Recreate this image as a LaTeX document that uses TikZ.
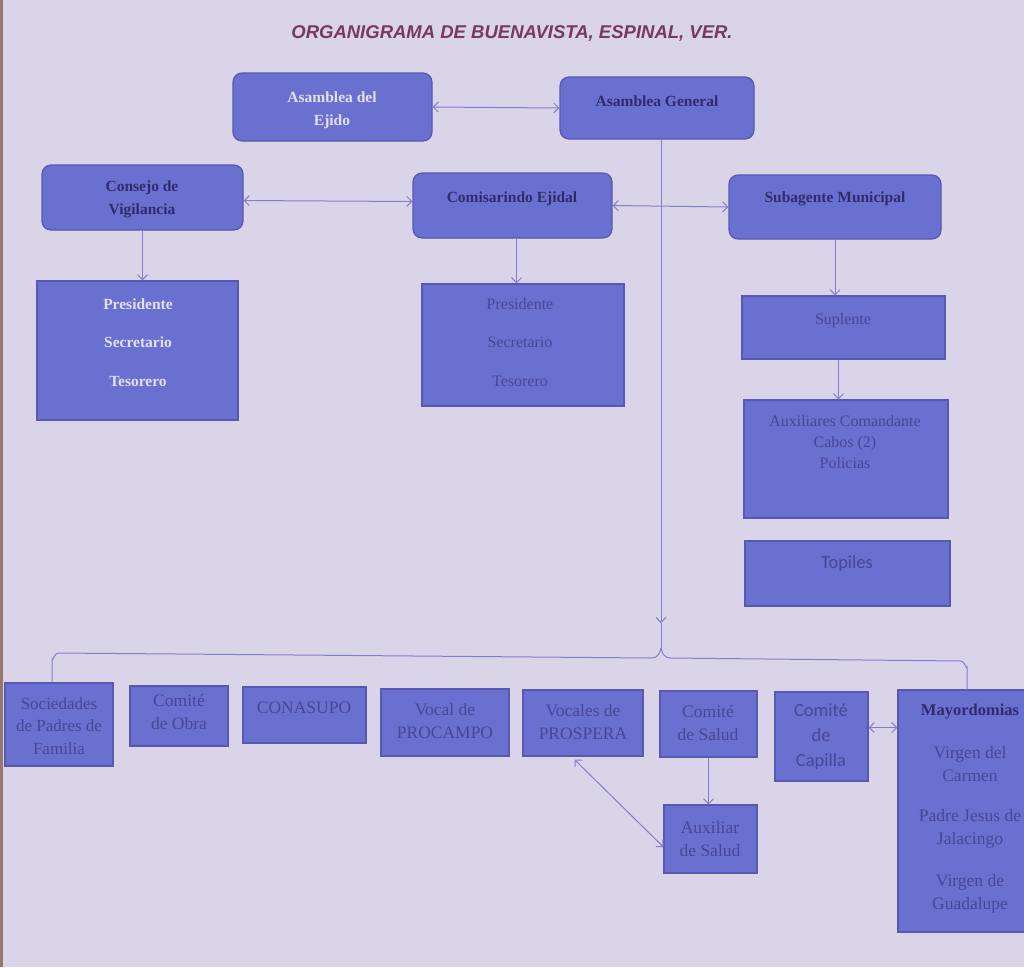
\documentclass[tikz,border=0pt]{standalone}
\usepackage{fontspec}
\setmainfont{Liberation Serif}
\newfontfamily\titlefont{Liberation Sans}
\newfontfamily\calfont{Carlito}
\usetikzlibrary{arrows.meta,fit,calc}
\definecolor{bgc}{RGB}{218,212,233}
\definecolor{boxfill}{RGB}{106,112,208}
\definecolor{boxline}{RGB}{88,88,176}
\definecolor{darkt}{RGB}{48,44,108}
\definecolor{midt}{RGB}{72,70,150}
\definecolor{whitet}{RGB}{228,224,244}
\definecolor{linkc}{RGB}{128,128,200}
\definecolor{titlec}{RGB}{118,58,92}
\definecolor{edgec}{RGB}{150,120,112}
\begin{document}
\begin{tikzpicture}[x=1pt,y=-1pt,
  box/.style={draw=boxline, fill=boxfill, line width=1.2pt, inner sep=0pt},
  rbox/.style={box, rounded corners=9pt},
  lnk/.style={draw=linkc, line width=1pt},
  tip/.style={-{Straight Barb[length=5pt,width=10pt]}},
  dtip/.style={{Straight Barb[length=5pt,width=10pt]}-{Straight Barb[length=5pt,width=10pt]}},
  bt/.style={font=\fontsize{15.5}{23}\selectfont\bfseries, text=darkt, align=center, inner sep=0pt},
  wt/.style={bt, text=whitet},
  rt/.style={font=\fontsize{16}{21}\selectfont, text=midt, align=center, inner sep=0pt},
  lt/.style={font=\fontsize{17.5}{23}\selectfont, text=midt, align=center, inner sep=0pt},
  ct/.style={font=\calfont\fontsize{18.5}{25}\selectfont, text=midt, align=center, inner sep=0pt}
]
\useasboundingbox (0,0) rectangle (1024,967);
\fill[bgc] (0,0) rectangle (1024,967);
\fill[edgec] (0,0) rectangle (3,967);

% title
\node[font=\titlefont\fontsize{18.5}{22}\selectfont\bfseries\itshape, text=titlec, inner sep=0pt] (title) at (512,33) {ORGANIGRAMA DE BUENAVISTA, ESPINAL, VER.};

% top level
\node[rbox, fit={(233,73)(432,141)}] (ae) {};
\node[wt] (aeT) at (332,110) {Asamblea del\\Ejido};
\node[rbox, fit={(560,77)(754,139)}] (ag) {};
\node[bt] (agT) at (657,101) {Asamblea General};

\node[rbox, fit={(42,165)(243,230)}] (cv) {};
\node[bt] (cvT) at (142,199) {Consejo de\\Vigilancia};
\node[rbox, fit={(413,173)(612,238)}] (ce) {};
\node[bt] (ceT) at (512,199) {Comisarindo Ejidal};
\node[rbox, fit={(729,175)(941,239)}] (sm) {};
\node[bt] (smT) at (835,199) {Subagente Municipal};

% second level
\node[box, fit={(37,281)(238,420)}] (pv) {};
\node[wt] (pv1) at (138,304) {Presidente};
\node[wt] (pv2) at (138,342) {Secretario};
\node[wt] (pv3) at (138,381) {Tesorero};

\node[box, fit={(422,284)(624,406)}] (pc) {};
\node[rt] (pc1) at (520,304) {Presidente};
\node[rt] (pc2) at (520,342) {Secretario};
\node[rt] (pc3) at (520,381) {Tesorero};

\node[box, fit={(742,296)(945,359)}] (sup) {};
\node[rt] (supT) at (843,321) {Suplente};
\node[box, fit={(744,400)(948,518)}] (aux) {};
\node[rt] (auxT) at (845,442) {Auxiliares Comandante\\Cabos (2)\\Policias};
\node[box, fit={(745,541)(950,606)}] (top) {};
\node[ct] (topT) at (847,564) {Topiles};

% bottom row
\node[box, fit={(5,683)(113,766)}] (soc) {};
\node[lt, font=\fontsize{17}{22.5}\selectfont] (socT) at (59,726) {Sociedades\\de Padres de\\Familia};
\node[box, fit={(130,686)(228,746)}] (obra) {};
\node[lt] (obraT) at (179,712) {Comité\\de Obra};
\node[box, fit={(243,687)(366,743)}] (cona) {};
\node[lt] (conaT) at (304,708) {CONASUPO};
\node[box, fit={(381,689)(509,756)}] (proc) {};
\node[lt] (procT) at (445,721) {Vocal de\\PROCAMPO};
\node[box, fit={(523,690)(643,756)}] (pros) {};
\node[lt] (prosT) at (583,722) {Vocales de\\PROSPERA};
\node[box, fit={(660,691)(757,757)}] (csal) {};
\node[lt] (csalT) at (708,723) {Comité\\de Salud};
\node[box, fit={(664,805)(757,873)}] (axs) {};
\node[lt] (axsT) at (710,839) {Auxiliar\\de Salud};
\node[box, fit={(775,692)(868,781)}] (cc) {};
\node[ct] (ccT) at (821,737) {Comité\\de\\Capilla};
\node[box, fit={(898,690)(1042,932)}] (may) {};
\node[bt, font=\fontsize{16.5}{23}\selectfont\bfseries] (mayT) at (970,712) {Mayordomias};
\node[lt] (may1) at (970,764) {Virgen del\\Carmen};
\node[lt] (may2) at (970,829) {Padre Jesus de\\Jalacingo};
\node[lt] (may3) at (970,894) {Virgen de\\Guadalupe};

% connectors top
\draw[lnk,dtip] (ae.east) -- (ag.west);
\draw[lnk,dtip] ($(cv.east)+(0,3)$) -- ($(ce.west)+(0,-4)$);
\draw[lnk,dtip] (ce.east) -- (sm.west);
\draw[lnk,tip] (cv.south) -- (cv.south |- pv.north);
\coordinate (ceB) at ($(ce.south)+(4,0)$);
\draw[lnk,tip] (ceB) -- (ceB |- pc.north);
\draw[lnk,tip] (sm.south) -- (sm.south |- sup.north);
\coordinate (supB) at ($(sup.south)+(-5,0)$);
\draw[lnk,tip] (supB) -- (supB |- aux.north);

% main trunk and brace
\coordinate (agB) at ($(ag.south)+(4,0)$);
\coordinate (tipP) at (661,623);
\coordinate (peak) at (661,648);
\coordinate (lC) at (52,653);
\coordinate (rC) at (967,661);
\draw[lnk,tip] (agB) -- (tipP);
\draw[lnk] (tipP) -- (peak);
\draw[lnk] (peak) to[out=-100,in=0] (652,658) -- ($(lC)+(6,0)$) to[out=180,in=-90] ($(lC)+(0,6)$) -- (lC |- soc.north);
\draw[lnk] (peak) to[out=-80,in=180] (670,658) -- ($(rC)+(-6,0)$) to[out=0,in=-90] ($(rC)+(0,6)$) -- (rC |- may.north);

% connectors bottom
\draw[lnk,tip] (csal.south) -- (csal.south |- axs.north);
\draw[lnk,dtip] ($(pros.south west)!0.43!(pros.south east)+(0,3)$) -- ($(axs.west)+(0,8)$);
\coordinate (ccA) at ($(cc.east)+(0,-9)$);
\draw[lnk,dtip] (ccA) -- (ccA -| may.west);
\end{tikzpicture}
\end{document}
